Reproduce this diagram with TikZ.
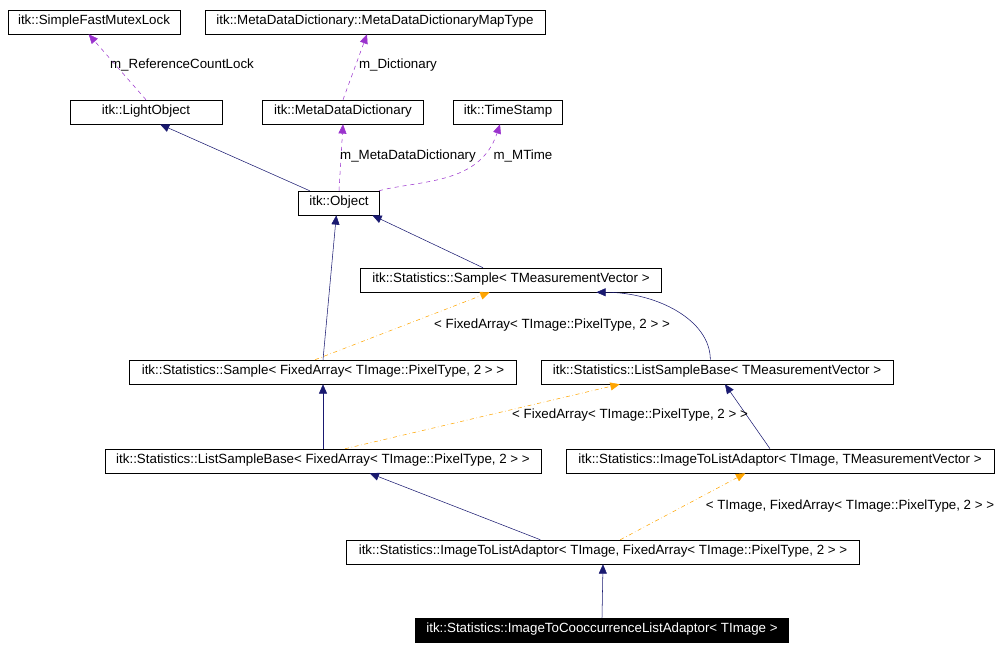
\documentclass[tikz,border=0pt]{standalone}
\usepackage{fontspec}
\setmainfont{Liberation Sans}
\usetikzlibrary{arrows.meta}
\definecolor{inh}{HTML}{191970}
\definecolor{use}{HTML}{9A32CD}
\definecolor{tpl}{HTML}{FFA500}
\begin{document}
\begin{tikzpicture}[x=0.75pt,y=-0.75pt,
  box/.style={draw,fill=white,inner sep=0pt,minimum height=18pt,text height=6.6pt,text depth=2.4pt,font=\fontsize{10}{11}\selectfont},
  lbl/.style={font=\fontsize{10}{11}\selectfont,inner sep=1pt},
  tip/.style={-{Triangle[length=7pt,width=6pt]}},
  usee/.style={draw=use,dashed,tip},
  tple/.style={draw=tpl,dash dot,tip}]
\useasboundingbox (0,0) rectangle (1000,650);
\node[box,minimum width=129pt] (mutex) at (94,22) {itk::SimpleFastMutexLock};
\node[box,minimum width=255pt] (map) at (375,22) {itk::MetaDataDictionary::MetaDataDictionaryMapType};
\node[box,minimum width=114pt] (light) at (146,112) {itk::LightObject};
\node[box,minimum width=121pt] (mdd) at (343,112) {itk::MetaDataDictionary};
\node[box,minimum width=82pt] (ts) at (508,112) {itk::TimeStamp};
\node[box,minimum width=61pt] (obj) at (339,203) {itk::Object};
\node[box,minimum width=226pt] (stmv) at (511,280) {itk::Statistics::Sample< TMeasurementVector >};
\node[box,minimum width=290pt] (sfa) at (323,372) {itk::Statistics::Sample< FixedArray< TImage::PixelType, 2 > >};
\node[box,minimum width=264pt] (ltmv) at (717,372) {itk::Statistics::ListSampleBase< TMeasurementVector >};
\node[box,minimum width=327pt] (lfa) at (323,461) {itk::Statistics::ListSampleBase< FixedArray< TImage::PixelType, 2 > >};
\node[box,minimum width=321pt] (itmv) at (780,461) {itk::Statistics::ImageToListAdaptor< TImage, TMeasurementVector >};
\node[box,minimum width=385pt] (ifa) at (603,552) {itk::Statistics::ImageToListAdaptor< TImage, FixedArray< TImage::PixelType, 2 > >};
\node[box,minimum width=280pt,fill=black,text=white] (coo) at (602,630) {itk::Statistics::ImageToCooccurrenceListAdaptor< TImage >};
% inheritance
\draw[inh,tip] ([xshift=-22pt]obj.north) -- ([xshift=10.5pt]light.south);
\draw[inh,tip] ([xshift=-21pt]stmv.north) -- ([xshift=25pt]obj.south);
\draw[inh,tip] (sfa.north) -- ([xshift=-2pt]obj.south);
\draw[inh,tip] ([xshift=-5pt]ltmv.north) .. controls ++(0,-40) and ++(60,0) .. ([xshift=64pt]stmv.south);
\draw[inh,tip] (lfa.north) -- (sfa.south);
\draw[inh,tip] ([xshift=-7.5pt]itmv.north) -- ([xshift=6pt]ltmv.south);
\draw[inh,tip] ([xshift=-47pt]ifa.north) -- ([xshift=35pt]lfa.south);
\draw[inh,tip] (coo.north) -- (ifa.south);
% usage
\draw[usee] (light.north) -- ([xshift=-4pt]mutex.south);
\node[lbl] (l1) at (182,65) {m\_ReferenceCountLock};
\draw[usee] (mdd.north) -- ([xshift=-6pt]map.south);
\node[lbl] (l2) at (398,65) {m\_Dictionary};
\draw[usee] (obj.north) -- (mdd.south);
\node[lbl] (l3) at (408,156) {m\_MetaDataDictionary};
\draw[usee] ([xshift=30pt]obj.north) .. controls (420,180) and (480,185) .. ([xshift=-6pt]ts.south);
\node[lbl] (l4) at (523,156) {m\_MTime};
% template
\draw[tple] ([xshift=-6pt]sfa.north) -- ([xshift=-16pt]stmv.south);
\node[lbl] (l5) at (552,325) {< FixedArray< TImage::PixelType, 2 > >};
\draw[tple] ([xshift=16.5pt]lfa.north) -- ([xshift=-73pt]ltmv.south);
\node[lbl] (l6) at (630,415) {< FixedArray< TImage::PixelType, 2 > >};
\draw[tple] ([xshift=13pt]ifa.north) -- ([xshift=-26pt]itmv.south);
\node[lbl] (l7) at (850,506) {< TImage, FixedArray< TImage::PixelType, 2 > >};
\end{tikzpicture}
\end{document}
